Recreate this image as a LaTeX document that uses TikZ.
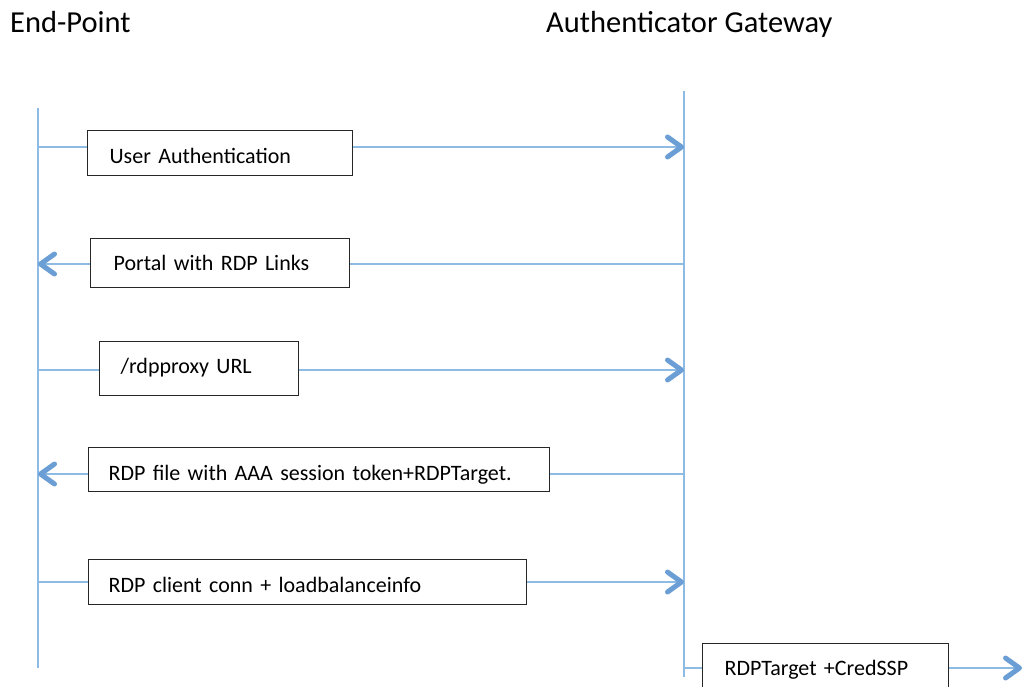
\documentclass[tikz,border=0pt]{standalone}
\usepackage{fontspec}
\setmainfont{Carlito}
\usetikzlibrary{arrows.meta}
\definecolor{lifeblue}{HTML}{8EBBE4}
\definecolor{tipblue}{HTML}{6A9ED4}
\newcommand\boxtext[3]{\hspace*{#1}\raisebox{-#2}[0pt][0pt]{#3}}
\tikzset{
  life/.style={draw=lifeblue, line width=1.5pt},
  msg/.style={draw=lifeblue, line width=1.5pt},
  msgarrow/.style={msg, -{Straight Barb[length=14pt, width=20pt, line width=5pt, round, color=tipblue]}},
  box/.style={draw=black!85, line width=1.2pt, fill=white, rectangle, inner sep=0pt, anchor=north west,
    align=left, font=\fontsize{22}{26}\selectfont, text height=0pt, text depth=0pt},
  title/.style={anchor=base west, inner sep=0pt, font=\fontsize{30.5}{36}\selectfont}
}
\begin{document}
\begin{tikzpicture}[x=1pt, y=-1pt]
\useasboundingbox (0,0) rectangle (1025,686);
\clip (0,0) rectangle (1025,686);
% titles
\node[title] (tep) at (10,32) {End-Point};
\node[title] (tgw) at (546,32) {Authenticator Gateway};
% lifelines
\coordinate (eptop) at (38,108);
\coordinate (epbot) at (38,668);
\coordinate (gwtop) at (684,91);
\coordinate (gwbot) at (684,677);
\draw[life] (eptop) -- (epbot);
\draw[life] (gwtop) -- (gwbot);
% boxes
\node[box, minimum height=45pt, text width=265pt] (b1) at (87,130) {\boxtext{22pt}{10pt}{User Authentication}};
\node[box, minimum height=49pt, text width=259pt] (b2) at (90,238) {\boxtext{23pt}{7.5pt}{Portal with RDP Links}};
\node[box, minimum height=54pt, text width=199pt] (b3) at (99,341) {\boxtext{21pt}{5pt}{/rdpproxy URL}};
\node[box, minimum height=44pt, text width=461pt] (b4) at (88,447) {\boxtext{20pt}{10.5pt}{RDP file with AAA session token+RDPTarget.}};
\node[box, minimum height=45pt, text width=438pt] (b5) at (88,559) {\boxtext{20pt}{10pt}{RDP client conn + loadbalanceinfo}};
\node[box, minimum height=49pt, text width=246pt] (b6) at (702,643) {\boxtext{22pt}{7.5pt}{RDPTarget +CredSSP}};
% message coordinates on lifelines
\coordinate (ep1) at (38,147);   \coordinate (gw1) at (684,147);
\coordinate (ep2) at (38,264);   \coordinate (gw2) at (684,264);
\coordinate (ep3) at (38,370);   \coordinate (gw3) at (684,370);
\coordinate (ep4) at (38,474);   \coordinate (gw4) at (684,474);
\coordinate (ep5) at (38,582);   \coordinate (gw5) at (684,582);
\coordinate (gw6) at (684,668);  \coordinate (out6) at (1022,668);
% messages
\draw[msg] (ep1) -- (b1.west |- ep1);
\draw[msgarrow] (b1.east |- gw1) -- (gw1);
\draw[msg] (gw2) -- (b2.east |- gw2);
\draw[msgarrow] (b2.west |- ep2) -- (ep2);
\draw[msg] (ep3) -- (b3.west |- ep3);
\draw[msgarrow] (b3.east |- gw3) -- (gw3);
\draw[msg] (gw4) -- (b4.east |- gw4);
\draw[msgarrow] (b4.west |- ep4) -- (ep4);
\draw[msg] (ep5) -- (b5.west |- ep5);
\draw[msgarrow] (b5.east |- gw5) -- (gw5);
\draw[msg] (gw6) -- (b6.west |- gw6);
\draw[msgarrow] (b6.east |- out6) -- (out6);
\end{tikzpicture}
\end{document}
